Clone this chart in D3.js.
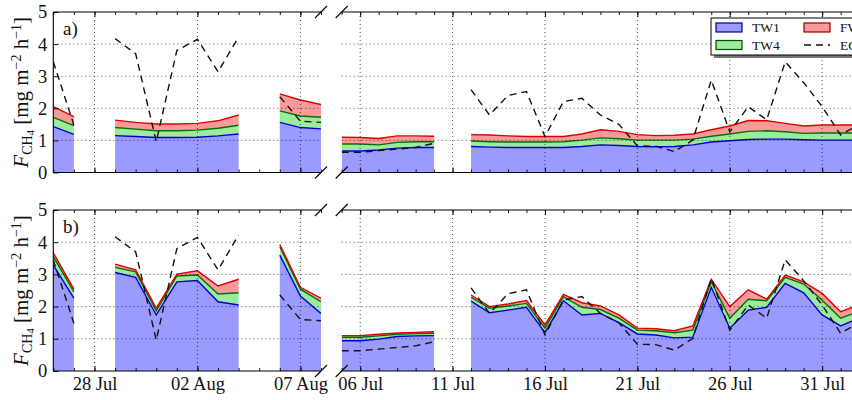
<!DOCTYPE html>
<html>
<head>
<meta charset="utf-8">
<script src="https://cdnjs.cloudflare.com/ajax/libs/d3/7.8.5/d3.min.js"></script>
<style>
  body { margin: 0; background: #fff; }
  svg { display: block; font-family: "Liberation Serif", "Times New Roman", serif; }
</style>
</head>
<body>
<div id="chart"></div>
<script>
// ---- data (null = no measurement) ----
// left block: 26 Jul .. 08 Aug (first year), right block: 05 Jul .. 02 Aug (second year)
var leftDays = d3.timeDay.range(new Date(2013, 6, 26), new Date(2013, 7, 9))
var rightDays = d3.timeDay.range(new Date(2014, 6, 5), new Date(2014, 7, 3))

var leftMajor = [new Date(2013, 6, 28), new Date(2013, 7, 2), new Date(2013, 7, 7)]
var rightMajor = [6, 11, 16, 21, 26, 31].map(function(d){ return new Date(2014, 6, d) })
var yTicks = [0, 1, 2, 3, 4, 5]

// eddy covariance, same in both panels
var ecLeft = [3.45, 1.48, null, 4.17, 3.70, 0.96, 3.80, 4.15, 3.14, 4.22, null, 2.36, 1.60, 1.56]
var ecRight = [0.63, 0.63, 0.68, 0.73, 0.78, 0.91, null, 2.58, 1.79, 2.40, 2.52, 1.12, 2.21, 2.31, 1.79, 1.50,
               0.83, 0.82, 0.65, 1.01, 2.88, 1.27, 2.05, 1.64, 3.45, 2.80, 2.05, 1.17, 1.50]

// panel a)
var tw1A_left = [1.43, 1.19, null, 1.15, 1.12, 1.09, 1.09, 1.10, 1.14, 1.20, null, 1.56, 1.40, 1.36]
var tw4A_left = [0.29, 0.27, null, 0.25, 0.23, 0.21, 0.21, 0.22, 0.24, 0.27, null, 0.36, 0.36, 0.36]
var fwA_left  = [0.33, 0.28, null, 0.23, 0.21, 0.21, 0.21, 0.21, 0.23, 0.32, null, 0.53, 0.50, 0.40]
var tw1A_right = [0.67, 0.67, 0.70, 0.76, 0.78, 0.78, null, 0.81, 0.79, 0.78, 0.78, 0.78, 0.78, 0.81, 0.86, 0.84,
                  0.81, 0.80, 0.81, 0.86, 0.95, 0.99, 1.03, 1.04, 1.04, 1.02, 1.01, 1.01, 1.01]
var tw4A_right = [0.22, 0.22, 0.16, 0.18, 0.18, 0.18, null, 0.17, 0.17, 0.17, 0.17, 0.17, 0.18, 0.20, 0.22, 0.21,
                  0.20, 0.21, 0.20, 0.18, 0.18, 0.21, 0.25, 0.26, 0.23, 0.20, 0.22, 0.22, 0.22]
var fwA_right  = [0.21, 0.20, 0.20, 0.20, 0.18, 0.17, null, 0.20, 0.21, 0.19, 0.17, 0.17, 0.16, 0.19, 0.25, 0.23,
                  0.17, 0.14, 0.15, 0.16, 0.20, 0.25, 0.34, 0.31, 0.26, 0.23, 0.25, 0.25, 0.25]

// panel b)
var tw1B_left = [3.29, 2.26, null, 3.06, 2.91, 1.74, 2.77, 2.81, 2.15, 2.05, null, 3.60, 2.33, 1.79]
var tw4B_left = [0.26, 0.20, null, 0.16, 0.17, 0.13, 0.18, 0.17, 0.24, 0.38, null, 0.26, 0.21, 0.36]
var fwB_left  = [0.12, 0.08, null, 0.10, 0.06, 0.08, 0.06, 0.13, 0.25, 0.42, null, 0.07, 0.06, 0.11]
var tw1B_right = [0.94, 0.94, 0.99, 1.07, 1.09, 1.10, null, 2.17, 1.81, 1.89, 1.98, 1.19, 2.18, 1.74, 1.79, 1.50,
                  1.15, 1.12, 1.03, 1.05, 2.60, 1.33, 1.89, 1.98, 2.72, 2.43, 1.74, 1.40, 1.65]
var tw4B_right = [0.11, 0.11, 0.10, 0.07, 0.07, 0.07, null, 0.12, 0.14, 0.13, 0.12, 0.14, 0.13, 0.24, 0.12, 0.14,
                  0.12, 0.13, 0.16, 0.22, 0.17, 0.31, 0.34, 0.20, 0.19, 0.27, 0.46, 0.24, 0.20]
var fwB_right  = [0.05, 0.05, 0.05, 0.04, 0.04, 0.05, null, 0.07, 0.05, 0.06, 0.09, 0.10, 0.07, 0.14, 0.11, 0.10,
                  0.06, 0.06, 0.06, 0.13, 0.08, 0.36, 0.29, 0.05, 0.07, 0.07, 0.21, 0.20, 0.20]

var KEYS = ["tw1", "tw4", "fw"]
var FILL = {tw1: "#9a9aff", tw4: "#9ceb9c", fw: "#f89a9a"}
var EDGE = {tw1: "#0000d8", tw4: "#00700a", fw: "#e00000"}

// ---- layout ----
var W = 852, H = 400
var LEFT_X = [53.3, 321], RIGHT_X = [341.7, 877.6]
var PANELS = [
  {top: 12, bottom: 172.5, label: "a)", showX: false,
   left: [tw1A_left, tw4A_left, fwA_left], right: [tw1A_right, tw4A_right, fwA_right]},
  {top: 210, bottom: 371, label: "b)", showX: true,
   left: [tw1B_left, tw4B_left, fwB_left], right: [tw1B_right, tw4B_right, fwB_right]}
]

var svg = d3.select("#chart").append("svg")
  .attr("width", W).attr("height", H)

function makeRows(days, s, ec){
  return days.map(function(d, i){
    return {date: d, tw1: s[0][i], tw4: s[1][i], fw: s[2][i], ec: ec[i]}
  })
}

var stack = d3.stack().keys(KEYS)
  .value(function(d, k){ return d[k] == null ? 0 : d[k] })

function drawBlock(g, p, pi, side){
  var isLeft = side == "left"
  var days = isLeft ? leftDays : rightDays
  var xr = isLeft ? LEFT_X : RIGHT_X
  var xDomain = isLeft ? [leftDays[0], leftDays[leftDays.length - 1]] : [rightDays[0], new Date(2014, 7, 3)]
  var x = d3.scaleTime().domain(xDomain).range(xr)
  var y = d3.scaleLinear().domain([0, 5]).range([p.bottom, p.top])
  var rows = makeRows(days, p[side], isLeft ? ecLeft : ecRight)
  var series = stack(rows)
  var major = isLeft ? leftMajor : rightMajor

  var clipId = "clip" + pi + side
  g.append("clipPath").attr("id", clipId).append("rect")
    .attr("x", xr[0]).attr("y", p.top - 1).attr("width", xr[1] - xr[0]).attr("height", p.bottom - p.top + 2)
  var plot = g.append("g").attr("clip-path", "url(#" + clipId + ")")

  var defined = function(pt){ return pt.data.tw1 != null }
  var area = d3.area().defined(defined)
    .x(function(pt){ return x(pt.data.date) })
    .y0(function(pt){ return y(pt[0]) })
    .y1(function(pt){ return y(pt[1]) })
  var top = d3.line().defined(defined)
    .x(function(pt){ return x(pt.data.date) })
    .y(function(pt){ return y(pt[1]) })

  plot.selectAll(".layer").data(series).enter().append("path")
    .attr("class", "layer")
    .attr("d", area)
    .attr("fill", function(s){ return FILL[s.key] })
    .attr("stroke", "none")

  plot.selectAll(".edge").data(series).enter().append("path")
    .attr("class", "edge")
    .attr("d", top)
    .attr("fill", "none")
    .attr("stroke", function(s){ return EDGE[s.key] })
    .attr("stroke-width", 1.4)

  var ecLine = d3.line()
    .defined(function(d){ return d.ec != null })
    .x(function(d){ return x(d.date) })
    .y(function(d){ return y(d.ec) })
  plot.append("path")
    .attr("d", ecLine(rows))
    .attr("fill", "none")
    .attr("stroke", "#111")
    .attr("stroke-width", 1.4)
    .attr("stroke-dasharray", "7,5")

  // dotted grid (drawn above the fills, as in the original)
  var grid = g.append("g").attr("stroke", "#000").attr("stroke-width", 0.9)
    .attr("stroke-dasharray", "1,3").attr("opacity", 0.75)
  grid.selectAll(".gy").data([1, 2, 3, 4]).enter().append("line")
    .attr("x1", xr[0]).attr("x2", Math.min(xr[1], W))
    .attr("y1", function(d){ return y(d) }).attr("y2", function(d){ return y(d) })
  grid.selectAll(".gx").data(major).enter().append("line")
    .attr("x1", function(d){ return x(d) }).attr("x2", function(d){ return x(d) })
    .attr("y1", p.top).attr("y2", p.bottom)

  // ticks, pointing inward
  var bottomMinor = g.append("g").attr("transform", "translate(0," + p.bottom + ")")
    .call(d3.axisBottom(x).tickValues(days.concat(isLeft ? [] : [new Date(2014, 7, 3)])).tickSize(-3).tickFormat(""))
  var topMinor = g.append("g").attr("transform", "translate(0," + p.top + ")")
    .call(d3.axisTop(x).tickValues(days).tickSize(-3).tickFormat(""))
  var bottomMajor = g.append("g").attr("transform", "translate(0," + p.bottom + ")")
    .call(d3.axisBottom(x).tickValues(major).tickSize(-5).tickPadding(6)
      .tickFormat(p.showX ? d3.timeFormat("%d %b") : ""))
  var topMajor = g.append("g").attr("transform", "translate(0," + p.top + ")")
    .call(d3.axisTop(x).tickValues(major).tickSize(-5).tickFormat(""))
  ;[bottomMinor, topMinor, bottomMajor, topMajor].forEach(function(a){
    a.select(".domain").remove()
    a.selectAll("line").attr("stroke", "#000").attr("stroke-width", 0.9)
    a.selectAll("text").attr("font-family", "Liberation Serif, serif").attr("font-size", 18.5).attr("fill", "#111")
  })

  // spines
  var spine = g.append("g").attr("stroke", "#000").attr("stroke-width", 1.1)
  spine.append("line").attr("x1", xr[0]).attr("x2", xr[1]).attr("y1", p.top).attr("y2", p.top)
  spine.append("line").attr("x1", xr[0]).attr("x2", xr[1]).attr("y1", p.bottom).attr("y2", p.bottom)

  // axis-break marks
  var bx = isLeft ? xr[1] : xr[0]
  ;[p.top, p.bottom].forEach(function(by){
    spine.append("line").attr("x1", bx - 6).attr("y1", by + 6).attr("x2", bx + 6).attr("y2", by - 6)
  })

  if (isLeft){
    spine.append("line").attr("x1", xr[0]).attr("x2", xr[0]).attr("y1", p.top).attr("y2", p.bottom)
    var ya = g.append("g").attr("transform", "translate(" + xr[0] + ",0)")
      .call(d3.axisLeft(y).tickValues(yTicks).tickSize(-5).tickPadding(6).tickFormat(d3.format("d")))
    ya.select(".domain").remove()
    ya.selectAll("line").attr("stroke", "#000").attr("stroke-width", 0.9)
    ya.selectAll("text").attr("font-family", "Liberation Serif, serif").attr("font-size", 18.5).attr("fill", "#111")
  }
}

PANELS.forEach(function(p, pi){
  var g = svg.append("g")
  drawBlock(g, p, pi, "left")
  drawBlock(g, p, pi, "right")

  g.append("text")
    .attr("x", 63).attr("y", p.top + 23)
    .attr("font-size", 19).attr("fill", "#111")
    .text(p.label)

  // y label: F_CH4 [mg m^-2 h^-1]
  var lab = g.append("text")
    .attr("transform", "translate(28," + ((p.top + p.bottom) / 2) + ") rotate(-90)")
    .attr("text-anchor", "middle")
    .attr("font-size", 21).attr("fill", "#111")
  lab.append("tspan").attr("font-style", "italic").text("F")
  lab.append("tspan").attr("font-size", 14).attr("dy", 4).text("CH")
  lab.append("tspan").attr("font-size", 10.5).attr("dy", 2).text("4")
  lab.append("tspan").attr("dy", -6).text("\u00a0[mg m")
  lab.append("tspan").attr("font-size", 14).attr("dy", -7.5).text("\u22122")
  lab.append("tspan").attr("dy", 7.5).text("\u00a0h")
  lab.append("tspan").attr("font-size", 14).attr("dy", -7.5).text("\u22121")
  lab.append("tspan").attr("dy", 7.5).text("]")
})

// legend (panel a, running off the right edge as in the original)
var legendItems = [
  {key: "tw1", label: "TW1", col: 0, row: 0},
  {key: "fw", label: "FW", col: 1, row: 0},
  {key: "tw4", label: "TW4", col: 0, row: 1},
  {key: "ec", label: "EC", col: 1, row: 1}
]
var leg = svg.append("g").attr("transform", "translate(711,18)")
leg.append("rect").attr("x", 3).attr("y", 3).attr("width", 170).attr("height", 37).attr("fill", "#777")
leg.append("rect").attr("x", 0).attr("y", 0).attr("width", 170).attr("height", 37)
  .attr("fill", "#fff").attr("stroke", "#000").attr("stroke-width", 1)
var li = leg.selectAll(".li").data(legendItems).enter().append("g")
  .attr("transform", function(d){ return "translate(" + (5 + d.col * 88) + "," + (5 + d.row * 17.5) + ")" })
li.each(function(d){
  var e = d3.select(this)
  if (d.key == "ec"){
    e.append("line").attr("x1", 0).attr("x2", 26).attr("y1", 4.5).attr("y2", 4.5)
      .attr("stroke", "#111").attr("stroke-width", 1.4).attr("stroke-dasharray", "7,5")
  } else {
    e.append("rect").attr("x", 0).attr("y", 0).attr("width", 26).attr("height", 9)
      .attr("fill", FILL[d.key]).attr("stroke", d3.color(EDGE[d.key]).darker(1.2)).attr("stroke-width", 1.2)
  }
  e.append("text").attr("x", 36).attr("y", 9).attr("font-size", 13.5).attr("fill", "#111").text(d.label)
})
</script>
</body>
</html>
